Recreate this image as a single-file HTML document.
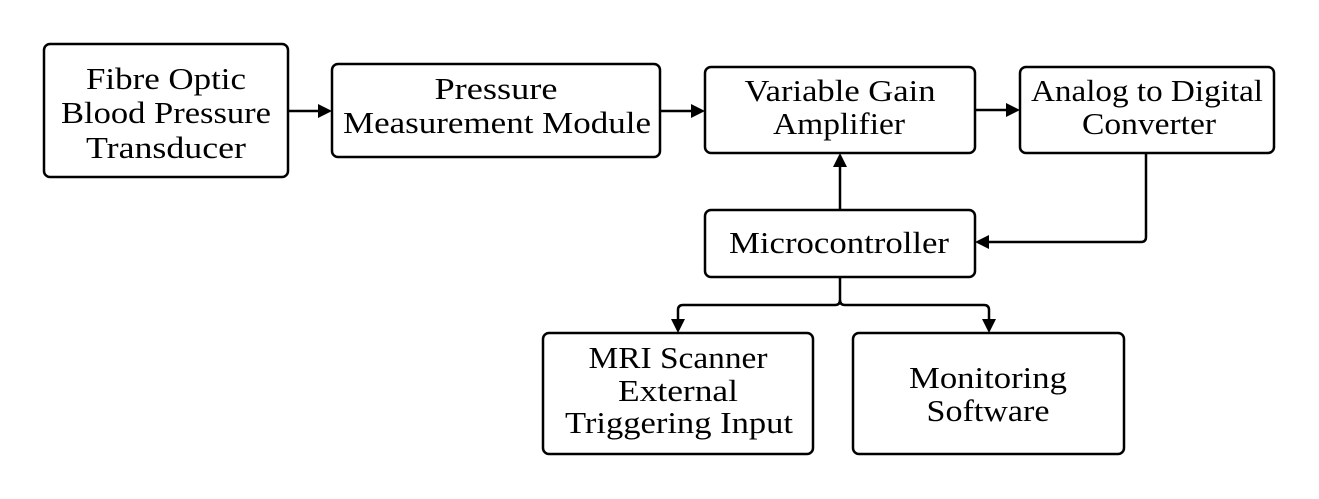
<!DOCTYPE html>
<html><head><meta charset="utf-8"><style>
html,body{margin:0;padding:0;background:#fff;}
svg{display:block;}
text{font-family:"Liberation Serif",serif;font-size:31px;fill:#000;text-anchor:middle;}
</style></head><body>
<svg width="1319" height="499" viewBox="0 0 1319 499" xmlns="http://www.w3.org/2000/svg">
<g fill="none" stroke="#000" stroke-width="2.5">
<rect x="44" y="44" width="244" height="133" rx="6"/>
<rect x="332" y="64" width="328" height="93" rx="6"/>
<rect x="705" y="67" width="270" height="86" rx="6"/>
<rect x="1020" y="67" width="254" height="86" rx="6"/>
<rect x="705" y="210" width="270" height="67" rx="6"/>
<rect x="543" y="333" width="270" height="121" rx="6"/>
<rect x="853" y="333" width="271" height="121" rx="6"/>
</g>
<g fill="none" stroke="#000" stroke-width="2.5">
<path d="M288 111 H320"/>
<path d="M660 111 H693"/>
<path d="M975 110 H1008"/>
<path d="M840 210 V165"/>
<path d="M1146 153 V237 Q1146 242 1141 242 H987"/>
<path d="M840 277 V300 Q840 305 835 305 H683 Q678 305 678 310 V321"/>
<path d="M840 300 Q840 305 845 305 H984 Q989 305 989 310 V321"/>
</g>
<g fill="#000">
<path d="M332 111 L318 104 L318 118 z"/>
<path d="M705 111 L691 104 L691 118 z"/>
<path d="M1020 110 L1006 103 L1006 117 z"/>
<path d="M840 153 L833 167 L847 167 z"/>
<path d="M975 242 L989 235 L989 249 z"/>
<path d="M678 333 L671 319 L685 319 z"/>
<path d="M989 333 L982 319 L996 319 z"/>
</g>
<text x="166" y="89" textLength="160" lengthAdjust="spacingAndGlyphs">Fibre Optic</text>
<text x="166" y="123" textLength="210" lengthAdjust="spacingAndGlyphs">Blood Pressure</text>
<text x="166" y="158" textLength="160" lengthAdjust="spacingAndGlyphs">Transducer</text>
<text x="496" y="99" textLength="123" lengthAdjust="spacingAndGlyphs">Pressure</text>
<text x="497" y="133" textLength="308" lengthAdjust="spacingAndGlyphs">Measurement Module</text>
<text x="840" y="101" textLength="191" lengthAdjust="spacingAndGlyphs">Variable Gain</text>
<text x="839" y="134" textLength="132" lengthAdjust="spacingAndGlyphs">Amplifier</text>
<text x="1147" y="101" textLength="232" lengthAdjust="spacingAndGlyphs">Analog to Digital</text>
<text x="1149" y="134" textLength="134" lengthAdjust="spacingAndGlyphs">Converter</text>
<text x="839" y="253" textLength="220" lengthAdjust="spacingAndGlyphs">Microcontroller</text>
<text x="678" y="368" textLength="179" lengthAdjust="spacingAndGlyphs">MRI Scanner</text>
<text x="678" y="401" textLength="120" lengthAdjust="spacingAndGlyphs">External</text>
<text x="679" y="433" textLength="228" lengthAdjust="spacingAndGlyphs">Triggering Input</text>
<text x="988" y="388" textLength="158" lengthAdjust="spacingAndGlyphs">Monitoring</text>
<text x="988" y="421" textLength="123" lengthAdjust="spacingAndGlyphs">Software</text>
</svg>
</body></html>
